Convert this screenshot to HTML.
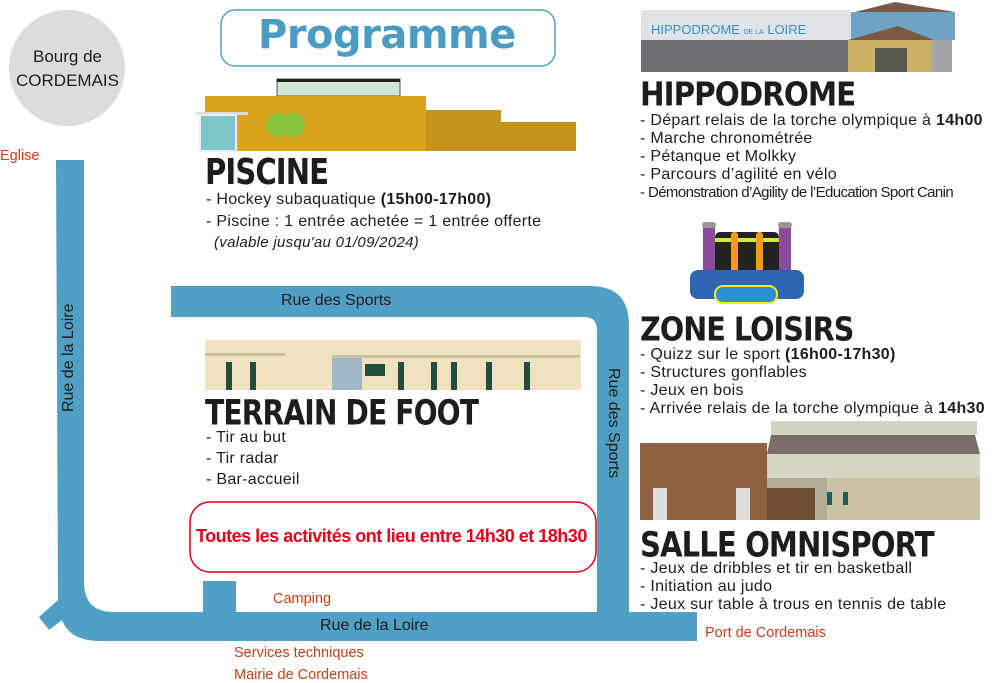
<!DOCTYPE html>
<html><head><meta charset="utf-8"><style>
*{margin:0;padding:0;box-sizing:border-box}
body{width:1000px;height:681px;position:relative;background:#fff;font-family:"Liberation Sans","DejaVu Sans",sans-serif;overflow:hidden}
.a{position:absolute;white-space:nowrap}
.h{font-family:"DejaVu Sans","Liberation Sans",sans-serif;font-weight:900;color:#1d1d1b;letter-spacing:-1px;transform-origin:left top}
.l{font-size:16px;color:#1d1d1b;line-height:18px;letter-spacing:0.3px}
.o{color:#c8401b;font-size:14.5px}
</style></head><body>
<svg class="a" style="left:0;top:0" width="1000" height="681">
 <circle cx="67" cy="68" r="58" fill="#dcdcdc"/>
 <rect x="221" y="10" width="334" height="56" rx="14" fill="#fff" stroke="#4fa0c4" stroke-width="1.5"/>
 <g fill="#4fa0c4">
  <path d="M56 160 H84 V582 Q84 612 114 612 H203 V581 H236 V612 H697 V641 H100 Q70 641 62 620 L49 630 L39 617 L58 600 Z"/>
  <path d="M171 286 H590 Q629 286 629 325 V612 H597 V330 Q597 317 584 317 H171 Z"/>
 </g>
 <rect x="277" y="79" width="123" height="17" fill="#cfe8d6" stroke="#555" stroke-width="1"/>
 <rect x="277" y="79" width="123" height="3" fill="#222"/>
 <rect x="205" y="96" width="221" height="55" fill="#d9a51f"/>
 <rect x="426" y="110" width="75" height="41" fill="#c4951a"/>
 <rect x="501" y="122" width="75" height="29" fill="#c4951a"/>
 <rect x="196" y="112" width="52" height="3" fill="#ddd"/>
 <rect x="200" y="115" width="36" height="36" fill="#7cc8c8" stroke="#eee" stroke-width="2"/>
 <circle cx="293" cy="125" r="12" fill="#8cc63f"/><circle cx="278" cy="125" r="12" fill="#8cc63f"/>
 <rect x="641" y="10" width="210" height="30" fill="#dde3e6"/>
 <rect x="641" y="40" width="210" height="32" fill="#6d6f72"/>
 <rect x="851" y="12" width="104" height="28" fill="#6fa3c4"/>
 <polygon points="855,12 895,2 955,12" fill="#7a5a44"/>
 <polygon points="848,40 898,26 934,40" fill="#7a5a44"/>
 <rect x="848" y="40" width="84" height="32" fill="#ccb164"/>
 <rect x="875" y="48" width="32" height="24" fill="#59584f"/>
 <rect x="932" y="40" width="20" height="32" fill="#a4a5ab"/>
 <text x="651" y="34" font-size="13" fill="#3b8fc0" font-family="Liberation Sans">HIPPODROME <tspan font-size="7">DE LA</tspan> LOIRE</text>
 <rect x="703" y="225" width="12" height="50" fill="#8a4c9a"/><rect x="779" y="225" width="12" height="50" fill="#8a4c9a"/>
 <rect x="715" y="232" width="64" height="43" rx="5" fill="#222"/>
 <rect x="715" y="238" width="64" height="4" fill="#d6e53a"/>
 <rect x="731" y="232" width="7" height="43" rx="3" fill="#f39a1b"/><rect x="756" y="232" width="7" height="43" rx="3" fill="#f39a1b"/>
 <rect x="690" y="270" width="114" height="29" rx="8" fill="#2f66b2"/>
 <rect x="715" y="286" width="62" height="17" rx="8" fill="#2e8fd4" stroke="#f0ea2b" stroke-width="2"/>
 <rect x="702" y="222" width="14" height="6" rx="3" fill="#999"/><rect x="778" y="222" width="14" height="6" rx="3" fill="#999"/>
 <rect x="205" y="340" width="376" height="50" fill="#efe3bf"/>
 <rect x="205" y="353" width="80" height="3" fill="#cbc2a6"/>
 <rect x="332" y="355" width="248" height="3" fill="#cbc2a6"/>
 <rect x="332" y="358" width="30" height="32" fill="#9fb7c6"/>
 <g fill="#234d3c"><rect x="226" y="362" width="6" height="28"/><rect x="250" y="362" width="6" height="28"/><rect x="398" y="362" width="6" height="28"/><rect x="431" y="362" width="6" height="28"/><rect x="486" y="362" width="6" height="28"/><rect x="524" y="362" width="6" height="28"/><rect x="365" y="364" width="20" height="12"/><rect x="451" y="362" width="6" height="28"/></g>
 <rect x="771" y="421" width="206" height="14" fill="#d4d2c0"/>
 <polygon points="771,435 975,435 980,454 767,454" fill="#7a6e68"/>
 <rect x="767" y="454" width="213" height="25" fill="#d6d4c3"/>
 <rect x="767" y="478" width="213" height="42" fill="#cbc3a5"/>
 <rect x="767" y="478" width="60" height="42" fill="#b2ac96"/>
 <rect x="640" y="443" width="127" height="77" fill="#8e6240"/>
 <rect x="767" y="488" width="48" height="32" fill="#704e32"/>
 <rect x="653" y="488" width="14" height="32" fill="#ddd"/><rect x="736" y="488" width="14" height="32" fill="#ddd"/>
 <rect x="827" y="492" width="5" height="13" fill="#1c5a5e"/><rect x="843" y="492" width="5" height="13" fill="#1c5a5e"/>
 <rect x="190" y="502" width="406" height="70" rx="20" fill="#fff" stroke="#e2001a" stroke-width="1.5"/>
</svg>
<div class="a" style="left:16px;top:45px;width:103px;text-align:center;font-size:17px;line-height:24px;color:#1d1d1b">Bourg de<br>CORDEMAIS</div>
<div class="a" style="left:258px;top:12px;font-size:40px;font-weight:bold;color:#4a9cc3;font-family:'DejaVu Sans','Liberation Sans',sans-serif;letter-spacing:-0.5px">Programme</div>
<div class="a h" style="left:205px;top:152px;font-size:31px;transform:scale(0.94,1.15)">PISCINE</div>
<div class="a l" style="left:206px;top:191px">- Hockey subaquatique <b>(15h00-17h00)</b></div>
<div class="a l" style="left:206px;top:213px">- Piscine : 1 entrée achetée = 1 entrée offerte</div>
<div class="a l" style="left:214px;top:234px;font-style:italic;font-size:15px">(valable jusqu'au 01/09/2024)</div>
<div class="a h" style="left:640px;top:76px;font-size:30px;transform:scale(0.98,1.1)">HIPPODROME</div>
<div class="a l" style="left:640px;top:112px">- Départ relais de la torche olympique à <b>14h00</b></div>
<div class="a l" style="left:640px;top:130px">- Marche chronométrée</div>
<div class="a l" style="left:640px;top:148px">- Pétanque et Molkky</div>
<div class="a l" style="left:640px;top:166px">- Parcours d’agilité en vélo</div>
<div class="a l" style="left:640px;top:184px;letter-spacing:-0.6px;font-size:15px">- Démonstration d’Agility de l’Education Sport Canin</div>
<div class="a h" style="left:640px;top:311px;font-size:30px;transform:scale(0.955,1.1)">ZONE LOISIRS</div>
<div class="a l" style="left:640px;top:346px">- Quizz sur le sport <b>(16h00-17h30)</b></div>
<div class="a l" style="left:640px;top:364px">- Structures gonflables</div>
<div class="a l" style="left:640px;top:382px">- Jeux en bois</div>
<div class="a l" style="left:640px;top:400px">- Arrivée relais de la torche olympique à <b>14h30</b></div>
<div class="a h" style="left:640px;top:525px;font-size:31px;transform:scale(0.94,1.12)">SALLE OMNISPORT</div>
<div class="a l" style="left:640px;top:560px">- Jeux de dribbles et tir en basketball</div>
<div class="a l" style="left:640px;top:578px">- Initiation au judo</div>
<div class="a l" style="left:640px;top:596px">- Jeux sur table à trous en tennis de table</div>
<div class="a h" style="left:205px;top:393px;font-size:31px;transform:scale(0.91,1.12)">TERRAIN DE FOOT</div>
<div class="a l" style="left:206px;top:429px">- Tir au but</div>
<div class="a l" style="left:206px;top:450px">- Tir radar</div>
<div class="a l" style="left:206px;top:471px">- Bar-accueil</div>
<div class="a" style="left:196px;top:526px;font-size:18px;font-weight:bold;color:#e2001a;letter-spacing:-0.5px">Toutes les activités  ont lieu entre 14h30 et 18h30</div>
<div class="a" style="left:281px;top:292px;font-size:16px;color:#1d1d1b">Rue des Sports</div>
<div class="a" style="left:320px;top:617px;font-size:16px;color:#1d1d1b">Rue de la Loire</div>
<div class="a" style="left:622px;top:368px;font-size:16px;color:#1d1d1b;transform-origin:left top;transform:rotate(90deg)">Rue des Sports</div>
<div class="a" style="left:60px;top:412px;font-size:16px;color:#1d1d1b;transform-origin:left top;transform:rotate(-90deg)">Rue de la Loire</div>
<div class="a o" style="left:0px;top:148px">Eglise</div>
<div class="a o" style="left:273px;top:591px">Camping</div>
<div class="a o" style="left:705px;top:625px">Port de Cordemais</div>
<div class="a o" style="left:234px;top:645px">Services techniques</div>
<div class="a o" style="left:234px;top:667px">Mairie de Cordemais</div>
</body></html>
